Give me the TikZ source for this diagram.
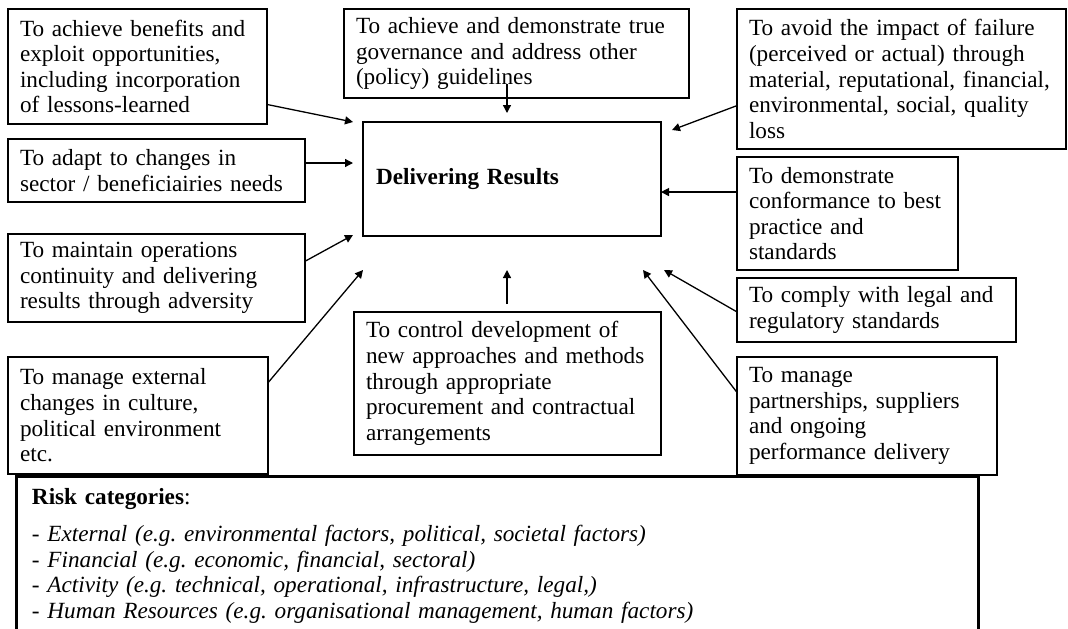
\documentclass[tikz,border=0pt]{standalone}
\usepackage{fontspec}
\setmainfont{Liberation Serif}
\usepackage{tikz}
\usetikzlibrary{arrows.meta, positioning, calc}
\frenchspacing
\tikzset{
  goalbox/.style={rectangle, draw=black, line width=0.6pt, align=left,
                  anchor=north west, inner xsep=6pt, inner ysep=2pt, outer sep=0pt,
                  font=\fontsize{11.6}{12.8}\selectfont},
  resultbox/.style={goalbox, inner xsep=6.5pt,
                    font=\fontsize{11.6}{12.8}\selectfont\bfseries},
  riskbox/.style={goalbox, line width=1.5pt, inner xsep=8pt, inner ysep=6pt},
  arrow/.style={-{Triangle[length=4pt, width=4pt]}, line width=0.65pt},
}

\begin{document}
\begin{tikzpicture}[x=0.5pt, y=-0.5pt]
  \useasboundingbox (0,0) rectangle (1068,628);

  % centre
  \node[resultbox, text width=136pt, minimum height=57pt] (res) at (363,122) {Delivering Results};

  % left column
  \node[goalbox, text width=117.5pt, minimum height=57.5pt] (benefit) at (8,9)
    {To achieve benefits and\\exploit opportunities,\\including incorporation\\of lessons-learned};
  \node[goalbox, text width=136.5pt, minimum height=31.5pt, below right=7.5pt and 0pt of benefit.south west] (adapt)
    {To adapt to changes in\\sector / beneficiairies needs};
  \node[goalbox, text width=136.5pt, minimum height=44pt, below right=16pt and 0pt of adapt.south west] (contin)
    {To maintain operations\\continuity and delivering\\results through adversity};
  \node[goalbox, text width=118pt, minimum height=58.5pt, below right=17.5pt and 0pt of contin.south west] (extern)
    {To manage external\\changes in culture,\\political environment\\etc.};

  % middle column
  \node[goalbox, text width=160.5pt, minimum height=44.5pt] (govern) at (344,9)
    {To achieve and demonstrate true\\governance and address other\\(policy) guidelines};
  \node[goalbox, text width=141.5pt, minimum height=71.5pt] (procure) at (354,312)
    {To control development of\\new approaches and methods\\through appropriate\\procurement and contractual\\arrangements};

  % right column
  \node[goalbox, text width=152.5pt, minimum height=70pt] (failure) at (737,9)
    {To avoid the impact of failure\\(perceived or actual) through\\material, reputational, financial,\\environmental, social, quality\\loss};
  \node[goalbox, text width=98.5pt, minimum height=56.5pt, below right=4pt and 0pt of failure.south west] (conform)
    {To demonstrate\\conformance to best\\practice and\\standards};
  \node[goalbox, text width=127.5pt, minimum height=32pt, below right=4pt and 0pt of conform.south west] (comply)
    {To comply with legal and\\regulatory standards};
  \node[goalbox, text width=118pt, minimum height=59pt, below right=7.5pt and 0pt of comply.south west] (partner)
    {To manage\\partnerships, suppliers\\and ongoing\\performance delivery};

  % risk categories
  \node[riskbox, text width=465pt] (risk) at (16,476)
    {\textbf{Risk categories}:\\[6pt]
     - \textit{External (e.g. environmental factors, political, societal factors)}\\
     - \textit{Financial (e.g. economic, financial, sectoral)}\\
     - \textit{Activity (e.g. technical, operational, infrastructure, legal,)}\\
     - \textit{Human Resources (e.g. organisational management, human factors)}};

  % arrow tips round the centre box
  \coordinate (tbenefit) at (353,122);
  \coordinate (tadapt)   at (353,163);
  \coordinate (tcontin)  at (353,235);
  \coordinate (textern)  at (363,270);
  \coordinate (tgovern)  at (507,113);
  \coordinate (tprocure) at (507,270);
  \coordinate (tfailure) at (672,130);
  \coordinate (tcomply)  at (664,270);
  \coordinate (tpartner) at (643,270);

  \draw[arrow] ($(benefit.north east)!0.83!(benefit.south east)$) -- (tbenefit);
  \draw[arrow] (adapt.east |- tadapt) -- (tadapt);
  \draw[arrow] ($(contin.north east)!0.31!(contin.south east)$) -- (tcontin);
  \draw[arrow] ($(extern.north east)!0.22!(extern.south east)$) -- (textern);
  \draw[arrow] ($(tgovern |- govern.south)+(0,-14)$) -- (tgovern);
  \draw[arrow] ($(tprocure |- procure.north)+(0,-8)$) -- (tprocure);
  \draw[arrow] ($(failure.north west)!0.69!(failure.south west)$) -- (tfailure);
  \draw[arrow] ($(conform.north west)!0.31!(conform.south west)$) -- (res.east |- {$(conform.north west)!0.31!(conform.south west)$});
  \draw[arrow] ($(comply.north west)!0.53!(comply.south west)$) -- (tcomply);
  \draw[arrow] ($(partner.north west)!0.3!(partner.south west)$) -- (tpartner);
\end{tikzpicture}
\end{document}
